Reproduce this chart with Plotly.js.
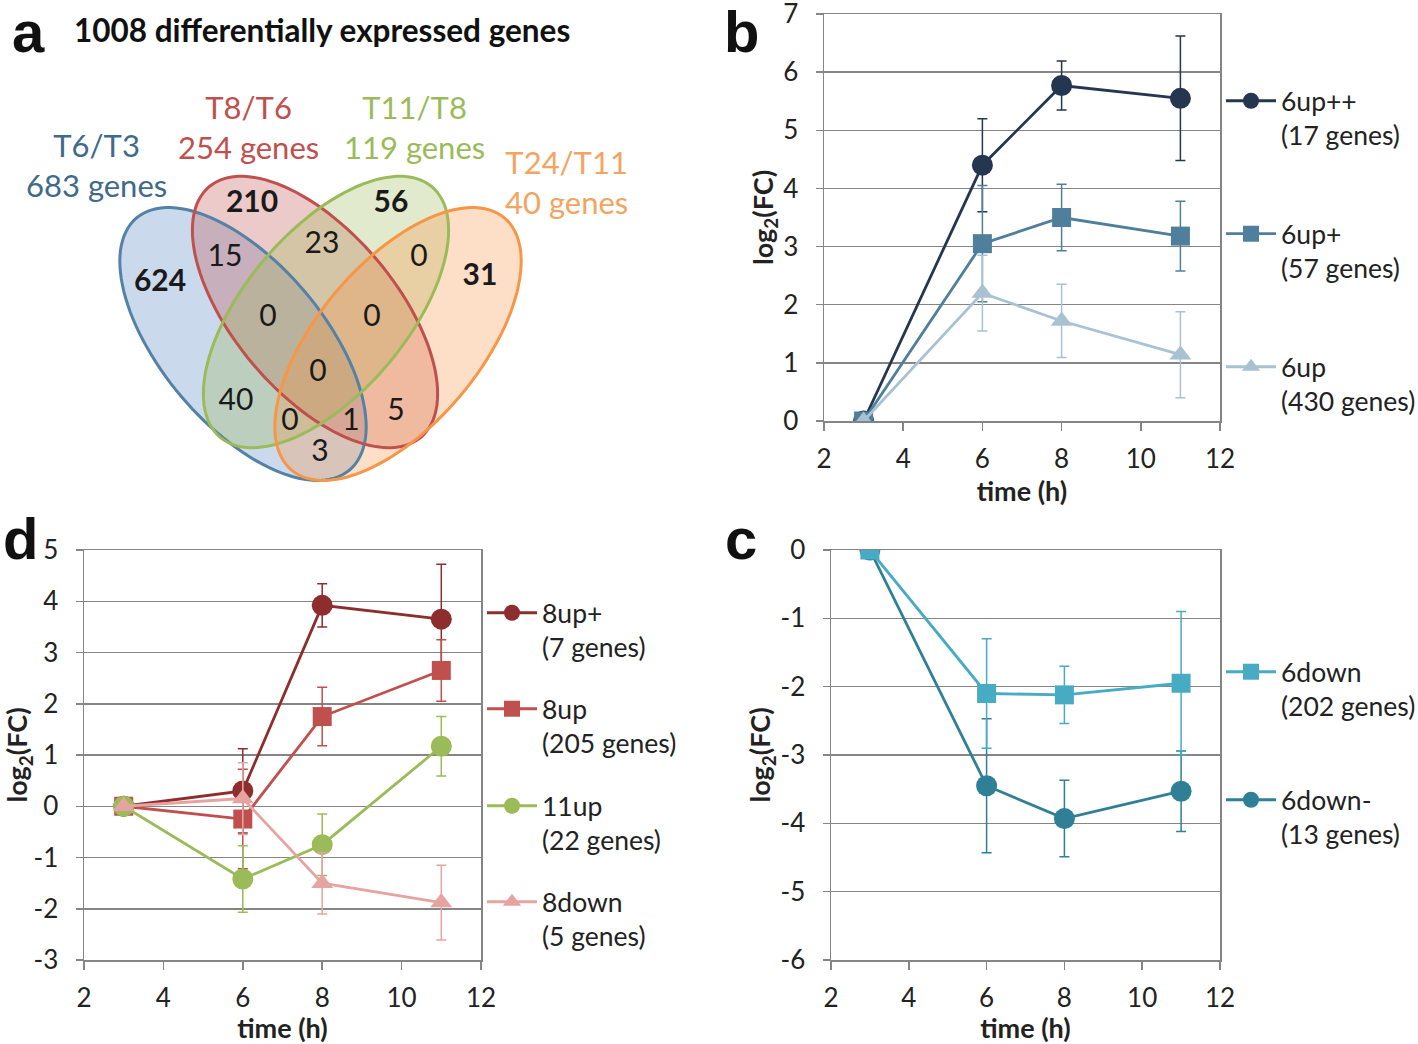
<!DOCTYPE html>
<html>
<head>
<meta charset="utf-8">
<script src="https://cdn.plot.ly/plotly-3.0.1.min.js"></script>
<style>
  html, body { margin: 0; background: #fff; overflow: hidden; }
  #fig { width: 1418px; height: 1044px; overflow: hidden; }
</style>
</head>
<body>
<div id="fig"></div>
<script>
// ---- data ----
var hours = [3, 6, 8, 11];

// panel b: genes up at T6
var up6ppMean = [0, 4.40, 5.77, 5.55];
var up6ppErr  = [0, 0.80, 0.42, 1.07];
var up6pMean  = [0, 3.05, 3.50, 3.18];
var up6pErr   = [0, 1.00, 0.57, 0.60];
var up6Mean   = [0, 2.20, 1.72, 1.14];
var up6Err    = [0, 0.65, 0.63, 0.74];

// panel d: T8 / T11 clusters
var up8pMean   = [0, 0.30, 3.92, 3.65];
var up8pErr    = [0, 0.82, 0.42, 1.07];
var up8Mean    = [0, -0.25, 1.75, 2.65];
var up8Err     = [0, 0.97, 0.57, 0.60];
var up11Mean   = [0, -1.42, -0.75, 1.17];
var up11Err    = [0, 0.65, 0.60, 0.58];
var down8Mean  = [0, 0.15, -1.50, -1.88];
var down8Err   = [0, 0.70, 0.60, 0.73];

// panel c: genes down at T6
var down6Mean  = [0, -2.10, -2.12, -1.95];
var down6Err   = [0, 0.80, 0.42, 1.05];
var down6mMean = [0, -3.45, -3.93, -3.53];
var down6mErr  = [0, 0.98, 0.56, 0.59];

// tick labels
var xTicks  = [2, 4, 6, 8, 10, 12];
var yTicksB = [0, 1, 2, 3, 4, 5, 6, 7];
var yTicksD = [-3, -2, -1, 0, 1, 2, 3, 4, 5];
var yTicksC = [-6, -5, -4, -3, -2, -1, 0];

// panel a: venn
var setNames  = ['T6/T3', 'T8/T6', 'T11/T8', 'T24/T11'];
var setSizes  = [683, 254, 119, 40];
var regionCounts = [624, 210, 56, 31, 15, 23, 0, 0, 0, 0, 40, 0, 1, 5, 3];
var totalGenes = 1008;

// ---- positions / styles (pixel space of the venn panel) ----
var regionX = [160, 252, 391, 480, 225, 322, 419, 268, 372, 318, 236, 290, 351, 396, 320];
var regionY = [283, 204, 204, 277, 258, 245, 258, 318, 318, 373, 402, 422, 422, 412, 453];
var regionBold = [true, true, true, true, false, false, false, false, false, false, false, false, false, false, false];
var setLabelX = [96, 248, 414, 566];
var setLabelY = [165, 127, 127, 182];
var setTextColor = ['#3f6a8c', '#c0504d', '#9bbb59', '#f4a460'];
var setLineColor = ['#5482a6', '#c0504d', '#9bbb59', '#f79646'];
var setFill = ['rgba(79,129,189,0.3)', 'rgba(192,80,77,0.3)', 'rgba(155,187,89,0.3)', 'rgba(247,150,70,0.3)'];
// ellipse: cx, cy, a, b, angle
var ellipses = [
  [243, 344, 165, 81, 49.8],
  [315, 312, 164, 81, 49.8],
  [326, 312, 164, 81, -49.8],
  [398, 344, 165, 81, -49.8]
];

var FONT = 'Lato, "Open Sans", sans-serif';
var GRID = '#858585';

function ellipsePath(e) {
  var cx = e[0], cy = e[1], a = e[2], b = e[3], t = e[4] * Math.PI / 180;
  var p = '';
  for (var i = 0; i <= 120; i++) {
    var u = 2 * Math.PI * i / 120;
    var x = cx + a * Math.cos(u) * Math.cos(t) - b * Math.sin(u) * Math.sin(t);
    var y = cy + a * Math.cos(u) * Math.sin(t) + b * Math.sin(u) * Math.cos(t);
    p += (i ? 'L' : 'M') + x.toFixed(1) + ',' + y.toFixed(1);
  }
  return p + 'Z';
}

function line(x, y, err, name, color, symbol, size, xa, ya, leg) {
  return {
    x: x, y: y, name: name,
    type: 'scatter', mode: 'lines+markers',
    xaxis: xa, yaxis: ya, legend: leg,
    line: {color: color, width: 2.8},
    marker: {color: color, symbol: symbol, size: size, line: {width: 0}},
    error_y: {type: 'data', array: err, visible: true, color: color, thickness: 1.5, width: 5},
    hoverinfo: 'x+y+name'
  };
}

var data = [
  line(hours, up6ppMean, up6ppErr, '6up++<br>(17 genes)', '#243650', 'circle', 21, 'x', 'y', 'legend'),
  line(hours, up6pMean, up6pErr, '6up+<br>(57 genes)', '#4f7f9c', 'square', 19, 'x', 'y', 'legend2'),
  line(hours, up6Mean, up6Err, '6up<br>(430 genes)', '#a8c2d2', 'triangle-up', 19, 'x', 'y', 'legend3'),

  line(hours, up8pMean, up8pErr, '8up+<br>(7 genes)', '#8e2d2d', 'circle', 21, 'x2', 'y2', 'legend4'),
  line(hours, up8Mean, up8Err, '8up<br>(205 genes)', '#c0504d', 'square', 19, 'x2', 'y2', 'legend5'),
  line(hours, up11Mean, up11Err, '11up<br>(22 genes)', '#9bbb59', 'circle', 21, 'x2', 'y2', 'legend6'),
  line(hours, down8Mean, down8Err, '8down<br>(5 genes)', '#e6a4a1', 'triangle-up', 19, 'x2', 'y2', 'legend7'),

  line(hours, down6mMean, down6mErr, '6down-<br>(13 genes)', '#2f7f96', 'circle', 21, 'x3', 'y3', 'legend9'),
  line(hours, down6Mean, down6Err, '6down<br>(202 genes)', '#48abc4', 'square', 19, 'x3', 'y3', 'legend8'),

  {
    x: regionX, y: regionY, xaxis: 'x4', yaxis: 'y4',
    type: 'scatter', mode: 'text', showlegend: false, hoverinfo: 'skip',
    text: regionCounts.map(function (c, i) { return regionBold[i] ? '<b>' + c + '</b>' : String(c); }),
    textfont: {family: FONT, size: 30, color: '#1a1a1a'}
  }
];

function px(x) { return x / 1418; }
function py(y) { return 1 - y / 1044; }

function xAx(l, r, anchor) {
  return {
    domain: [px(l), px(r)], range: [2, 12],
    tickmode: 'array', tickvals: xTicks, ticktext: xTicks.map(String),
    showgrid: false, zeroline: false,
    showline: true, mirror: true, linecolor: GRID, linewidth: 1.5,
    ticks: 'outside', ticklen: 8, tickcolor: GRID, tickwidth: 1.5,
    ticklabelstandoff: 6,
    tickfont: {family: FONT, size: 26, color: '#222'},
    title: {text: '<b>time (h)</b>', font: {family: FONT, size: 27, color: '#222'}, standoff: 2},
    anchor: anchor, fixedrange: true
  };
}
function yAx(top, bot, range, ticks, anchor) {
  return {
    domain: [py(bot), py(top)], range: range,
    tickmode: 'array', tickvals: ticks, ticktext: ticks.map(String),
    showgrid: true, gridcolor: GRID, gridwidth: 1.5, zeroline: false,
    showline: true, mirror: true, linecolor: GRID, linewidth: 1.5,
    ticks: 'outside', ticklen: 7, tickcolor: GRID, tickwidth: 1.5,
    ticklabelstandoff: 12, ticklabeloverflow: 'allow',
    tickfont: {family: FONT, size: 26, color: '#222'},
    title: {text: '<b>log<sub>2</sub>(FC)</b>', font: {family: FONT, size: 27, color: '#222'}, standoff: 2},
    anchor: anchor, fixedrange: true
  };
}

function leg(x, y) {
  return {
    x: px(x), y: py(y), xanchor: 'left', yanchor: 'top',
    bgcolor: 'rgba(0,0,0,0)', borderwidth: 0, valign: 'top',
    font: {family: FONT, size: 26.5, color: '#222'},
    itemwidth: 50
  };
}

var layout = {
  width: 1418, height: 1044,
  margin: {l: 0, r: 0, t: 0, b: 0, autoexpand: false},
  paper_bgcolor: '#fff', plot_bgcolor: 'rgba(0,0,0,0)',
  font: {family: FONT, color: '#222'},
  showlegend: true,
  xaxis: xAx(824, 1220, 'y'), yaxis: yAx(14, 421, [0, 7], yTicksB, 'x'),
  xaxis2: xAx(84, 481, 'y2'), yaxis2: yAx(550, 960, [-3, 5], yTicksD, 'x2'),
  xaxis3: xAx(831, 1220, 'y3'), yaxis3: yAx(550, 960, [-6, 0], yTicksC, 'x3'),
  xaxis4: {domain: [0, px(680)], range: [0, 680], visible: false, fixedrange: true},
  yaxis4: {domain: [py(500), 1], range: [500, 0], visible: false, fixedrange: true},
  legend: leg(1221, 77), legend2: leg(1221, 210), legend3: leg(1221, 343),
  legend4: leg(482, 589), legend5: leg(482, 685), legend6: leg(482, 782), legend7: leg(482, 878),
  legend8: leg(1221, 648), legend9: leg(1221, 776),
  shapes: [],
  annotations: []
};

// venn fills then outlines
ellipses.forEach(function (e, i) {
  layout.shapes.push({type: 'path', xref: 'x4', yref: 'y4', path: ellipsePath(e),
    fillcolor: setFill[i], line: {width: 0}, layer: 'below'});
});
ellipses.forEach(function (e, i) {
  layout.shapes.push({type: 'path', xref: 'x4', yref: 'y4', path: ellipsePath(e),
    fillcolor: 'rgba(0,0,0,0)', line: {color: setLineColor[i], width: 3}, layer: 'below'});
});

setNames.forEach(function (n, i) {
  layout.annotations.push({xref: 'x4', yref: 'y4', x: setLabelX[i], y: setLabelY[i],
    text: n + '<br>' + setSizes[i] + ' genes', showarrow: false,
    font: {family: FONT, size: 31, color: setTextColor[i]}, align: 'center'});
});

layout.annotations.push({xref: 'paper', yref: 'paper', x: px(72), y: py(30), xanchor: 'left', yanchor: 'middle',
  text: '<b>' + totalGenes + ' differentially expressed genes</b>', showarrow: false,
  font: {family: FONT, size: 31.5, color: '#111'}});

[['a', 28, 31], ['b', 741, 31], ['d', 20, 538], ['c', 741, 538]].forEach(function (p) {
  layout.annotations.push({xref: 'paper', yref: 'paper', x: px(p[1]), y: py(p[2]),
    xanchor: 'center', yanchor: 'middle', text: '<b>' + p[0] + '</b>', showarrow: false,
    font: {family: 'Liberation Sans, Arial, sans-serif', size: 58, color: '#111'}});
});

Plotly.newPlot('fig', data, layout, {displayModeBar: false, staticPlot: true});
</script>
</body>
</html>
